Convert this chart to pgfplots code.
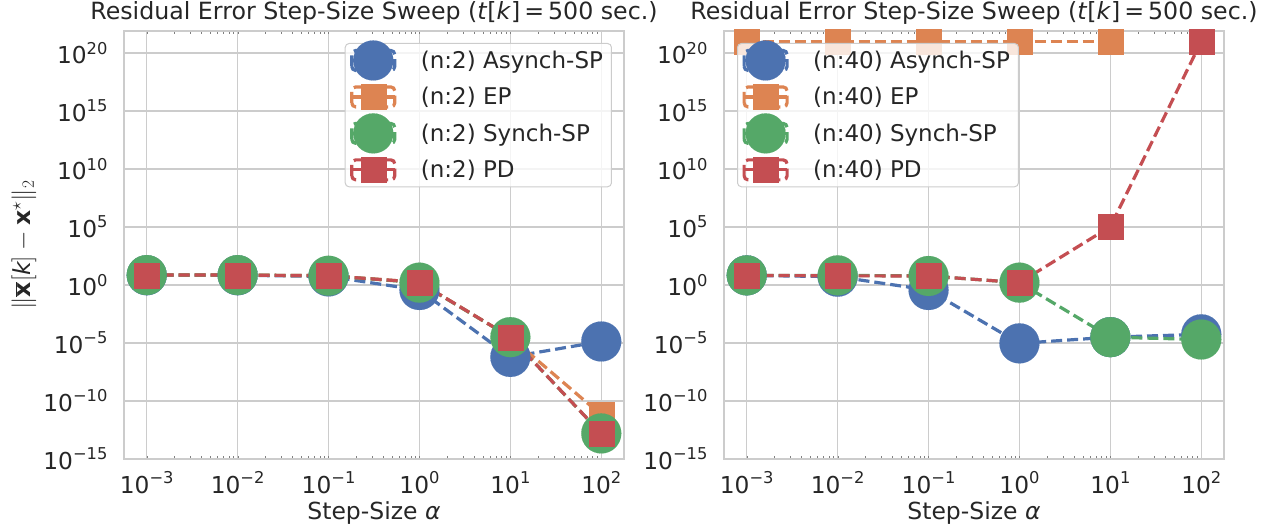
\documentclass[border=0pt]{standalone}
\usepackage{pgfplots}
\pgfplotsset{compat=1.18}
\usepackage{fontspec}
\setmainfont{DejaVu Sans}
\definecolor{cblue}{HTML}{4C72B0}
\definecolor{corange}{HTML}{DD8452}
\definecolor{cgreen}{HTML}{55A868}
\definecolor{cred}{HTML}{C44E52}
\definecolor{gridc}{HTML}{CCCCCC}
\definecolor{txt}{HTML}{262626}
\newcommand{\tp}[1]{10\raisebox{0.42em}{\fontsize{16.3}{17}\selectfont #1}}
\pgfplotsset{
  legend image code/.code={
    \path (0pt,-10pt) rectangle (43pt,10pt);
    \draw[overlay,#1,mark=none,opacity=1,sharp corners,solid,line cap=butt] (0pt,0pt) -- (43pt,0pt);
    \draw[overlay,#1,sharp corners,solid,line width=0.1pt,opacity=1,fill opacity=1,draw opacity=1] plot coordinates {(21.5pt,0pt)};
  },
  every axis plot/.append style={line width=3.2pt, dash pattern=on 11pt off 5pt},
}
\tikzset{
  sA/.style={color=cblue, mark=*, mark size=20pt, mark options={solid, draw=cblue, line width=0.1pt, fill=cblue, opacity=1}},
  sE/.style={color=corange, mark=square*, mark size=12.5pt, mark options={solid, draw=corange, line width=0.1pt, fill=corange, opacity=1}},
  sS/.style={color=cgreen, mark=*, mark size=20pt, mark options={solid, draw=cgreen, line width=0.1pt, fill=cgreen, opacity=1}},
  sP/.style={color=cred, mark=square*, mark size=12.5pt, mark options={solid, draw=cred, line width=0.1pt, fill=cred, opacity=1}},
}
\begin{document}
\begin{tikzpicture}
\path[use as bounding box] (0pt,0pt) rectangle (1270pt,529pt);
\begin{axis}[at={(124pt,70pt)}, anchor=south west,
    scale only axis, width=500pt, height=428pt,
    xmode=log, ymode=log,
    xmin=5.623e-4, xmax=177.83, ymin=1e-15, ymax=7.94e21,
    xtick={1e-3,1e-2,1e-1,1,10,100},
    xticklabels={\tp{−3},\tp{−2},\tp{−1},\tp{0},\tp{1},\tp{2}},
    ytick={1e-15,1e-10,1e-5,1,1e5,1e10,1e15,1e20},
    yticklabels={\tp{−15},\tp{−10},\tp{−5},\tp{0},\tp{5},\tp{10},\tp{15},\tp{20}},
    grid=major, grid style={color=gridc, line width=1.2pt},
    axis line style={color=gridc, line width=1.6pt},
    major tick length=0pt,
    tick label style={font=\fontsize{23.3}{27}\selectfont, text=txt},
    xticklabel style={yshift=-9pt},
    yticklabel style={xshift=-13pt},
    title style={font=\fontsize{23.7}{27}\selectfont, text=txt, yshift=-3pt},
    xlabel={Step-Size \textit{α}},
    every axis x label/.style={at={(axis description cs:0.5,0)}, yshift=-54pt, anchor=center, font=\fontsize{23.5}{27}\selectfont, text=txt},
    every axis y label/.style={at={(axis description cs:-0.2,0.5)}, rotate=90, anchor=center, font=\fontsize{23.5}{27}\selectfont, text=txt},
    title={Residual Error Step-Size Sweep (\textit{t}[\textit{k}]\,=\,500 sec.)},
    legend cell align=left,
    legend style={fill=white, fill opacity=0.8, draw opacity=1, text opacity=1,
      draw=gridc, line width=1pt, rounded corners=4pt,
      font=\fontsize{23}{27}\selectfont, text=txt,
      inner xsep=5pt, inner ysep=4pt, row sep=10.5pt, column sep=21pt,
      nodes={inner sep=3.5pt}},
  ylabel={$\|\overline{\textbf{x}}[\textit{k}]-\textbf{x}^{\star}\|_2$},
  legend style={at={(0.976,0.972)}, anchor=north east}]
\addplot[sA] coordinates {(1e-3,6.9) (1e-2,6.9) (1e-1,5.5) (1,0.37) (10,6.3e-7) (100,1.35e-5)};
\addlegendentry{(n:2) Asynch-SP}
\addplot[sE] coordinates {(1e-3,7.2) (1e-2,7.2) (1e-1,6.3) (1,1.7) (10,3.2e-5) (100,6.3e-12)};
\addlegendentry{(n:2) EP}
\addplot[sS] coordinates {(1e-3,7.2) (1e-2,7.2) (1e-1,6.3) (1,1.6) (10,3.2e-5) (100,1.6e-13)};
\addlegendentry{(n:2) Synch-SP}
\addplot[sP] coordinates {(1e-3,7.2) (1e-2,7.2) (1e-1,6.3) (1,1.7) (10,3.2e-5) (100,1.6e-13)};
\addlegendentry{(n:2) PD}
\end{axis}
\begin{axis}[at={(724pt,70pt)}, anchor=south west,
    scale only axis, width=500pt, height=428pt,
    xmode=log, ymode=log,
    xmin=5.623e-4, xmax=177.83, ymin=1e-15, ymax=7.94e21,
    xtick={1e-3,1e-2,1e-1,1,10,100},
    xticklabels={\tp{−3},\tp{−2},\tp{−1},\tp{0},\tp{1},\tp{2}},
    ytick={1e-15,1e-10,1e-5,1,1e5,1e10,1e15,1e20},
    yticklabels={\tp{−15},\tp{−10},\tp{−5},\tp{0},\tp{5},\tp{10},\tp{15},\tp{20}},
    grid=major, grid style={color=gridc, line width=1.2pt},
    axis line style={color=gridc, line width=1.6pt},
    major tick length=0pt,
    tick label style={font=\fontsize{23.3}{27}\selectfont, text=txt},
    xticklabel style={yshift=-9pt},
    yticklabel style={xshift=-13pt},
    title style={font=\fontsize{23.7}{27}\selectfont, text=txt, yshift=-3pt},
    xlabel={Step-Size \textit{α}},
    every axis x label/.style={at={(axis description cs:0.5,0)}, yshift=-54pt, anchor=center, font=\fontsize{23.5}{27}\selectfont, text=txt},
    title={Residual Error Step-Size Sweep (\textit{t}[\textit{k}]\,=\,500 sec.)},
    legend cell align=left,
    legend style={fill=white, fill opacity=0.8, draw opacity=1, text opacity=1,
      draw=gridc, line width=1pt, rounded corners=4pt,
      font=\fontsize{23}{27}\selectfont, text=txt,
      inner xsep=5pt, inner ysep=4pt, row sep=10.5pt, column sep=21pt,
      nodes={inner sep=3.5pt}},
  legend style={at={(0.026,0.972)}, anchor=north west}]
\addplot[sA] coordinates {(1e-3,6.8) (1e-2,5.2) (1e-1,0.37) (1,9.3e-6) (10,3.2e-5) (100,5.6e-5)};
\addlegendentry{(n:40) Asynch-SP}
\addplot[sE] coordinates {(1e-3,1e21) (1e-2,1e21) (1e-1,1e21) (1,1e21) (10,1e21)};
\addlegendentry{(n:40) EP}
\addplot[sS] coordinates {(1e-3,6.8) (1e-2,6.8) (1e-1,6.0) (1,1.6) (10,3.2e-5) (100,2.0e-5)};
\addlegendentry{(n:40) Synch-SP}
\addplot[sP] coordinates {(1e-3,6.8) (1e-2,6.2) (1e-1,6.0) (1,1.6) (10,1.07e5) (100,1e21)};
\addlegendentry{(n:40) PD}
\end{axis}
\end{tikzpicture}
\end{document}
